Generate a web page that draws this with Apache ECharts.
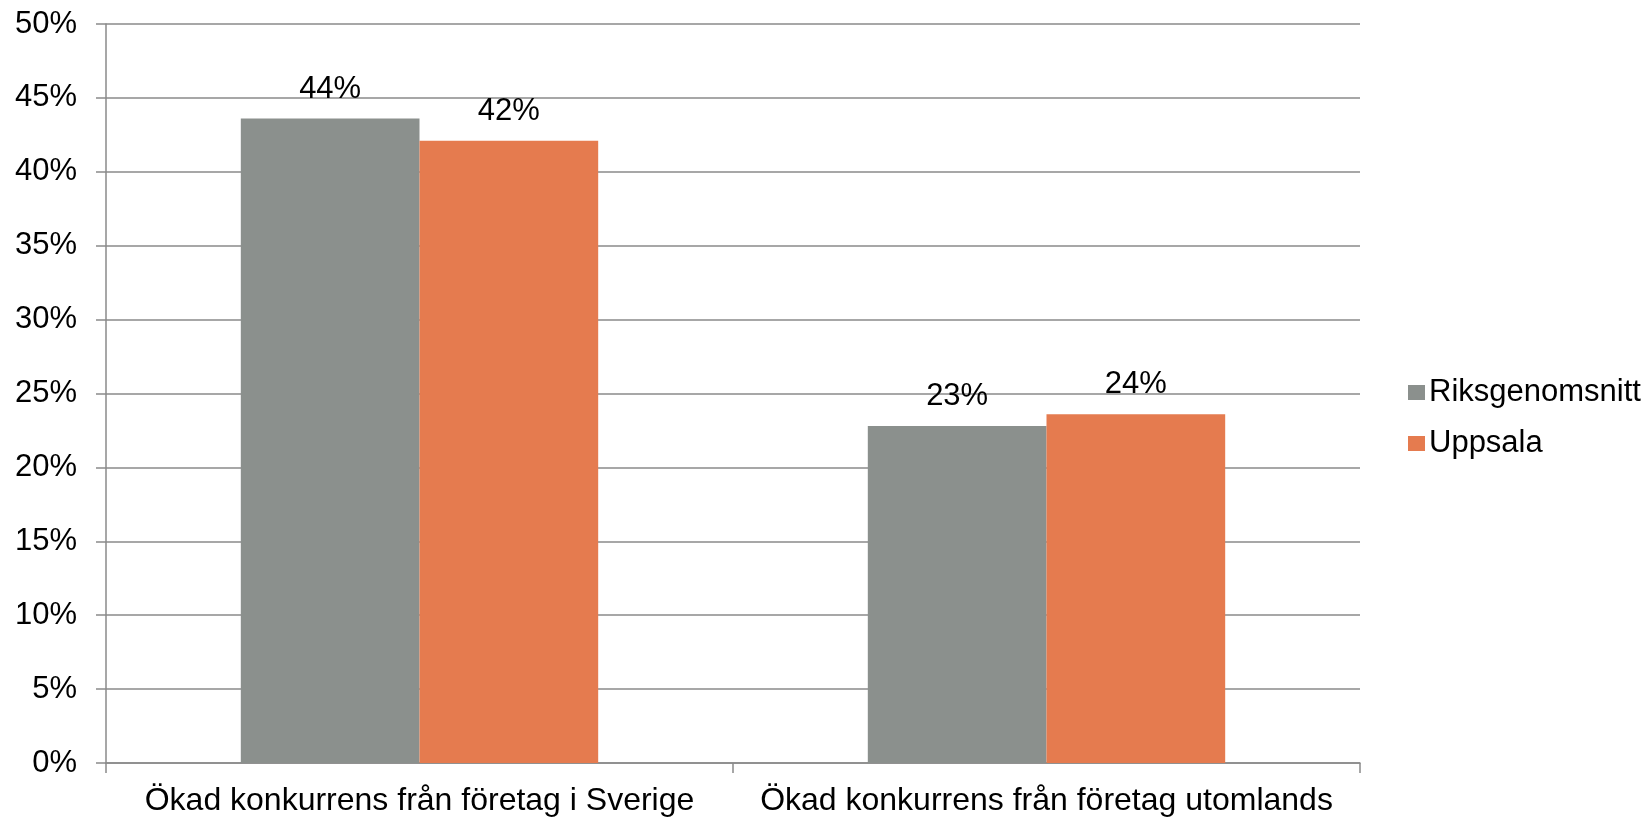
<!DOCTYPE html>
<html>
<head>
<meta charset="utf-8">
<style>
  html, body { margin: 0; padding: 0; background: #fff; }
  #chart { width: 1651px; height: 818px; }
</style>
<script src="https://cdn.jsdelivr.net/npm/echarts@6/dist/echarts.min.js"></script>
</head>
<body>
<div id="chart"></div>
<script>
// categories and series, values in percent
var categories = ['Ökad konkurrens från företag i Sverige', 'Ökad konkurrens från företag utomlands']
var riksgenomsnitt = [43.6, 22.8]
var uppsala = [42.1, 23.6]
var seriesNames = ['Riksgenomsnitt', 'Uppsala']
var yTicks = { min: 0, max: 50, interval: 5 }

var font = '"Liberation Sans", Arial, sans-serif'
var gridColor = '#8a8a8a'

var chart = echarts.init(document.getElementById('chart'))

function barLabel () {
  return {
    show: true,
    position: 'top',
    distance: 14,
    color: '#000',
    fontFamily: font,
    fontSize: 31,
    formatter: function (p) { return Math.round(p.value) + '%' }
  }
}

var option = {
  animation: false,
  grid: {
    left: 106,
    right: 291,
    top: 24,
    bottom: 55,
    containLabel: false
  },
  legend: {
    orient: 'vertical',
    left: 1403,
    top: 372,
    itemWidth: 17,
    itemHeight: 15,
    itemGap: 20,
    icon: 'rect',
    textStyle: { fontFamily: font, fontSize: 31, color: '#000', padding: [0, 0, 0, -1] },
    data: seriesNames
  },
  xAxis: {
    type: 'category',
    data: categories,
    axisLine: { lineStyle: { color: gridColor, width: 1.5 } },
    axisTick: { show: true, length: 10, lineStyle: { color: gridColor, width: 1.5 } },
    axisLabel: { color: '#000', fontFamily: font, fontSize: 32, margin: 22, interval: 0 }
  },
  yAxis: {
    type: 'value',
    min: yTicks.min,
    max: yTicks.max,
    interval: yTicks.interval,
    axisLine: { show: true, lineStyle: { color: gridColor, width: 1.5 } },
    axisTick: { show: true, length: 10, lineStyle: { color: gridColor, width: 1.5 } },
    axisLabel: {
      color: '#000', fontFamily: font, fontSize: 31, margin: 29,
      formatter: function (v) { return v + '%' }
    },
    splitLine: { show: true, lineStyle: { color: gridColor, width: 1.5 } }
  },
  series: [
    {
      name: seriesNames[0],
      type: 'bar',
      data: riksgenomsnitt,
      barGap: '0%',
      barCategoryGap: '43%',
      itemStyle: { color: '#8b908d' },
      label: barLabel()
    },
    {
      name: seriesNames[1],
      type: 'bar',
      data: uppsala,
      itemStyle: { color: '#e57b4f' },
      label: barLabel()
    }
  ]
}

chart.setOption(option)
</script>
</body>
</html>
